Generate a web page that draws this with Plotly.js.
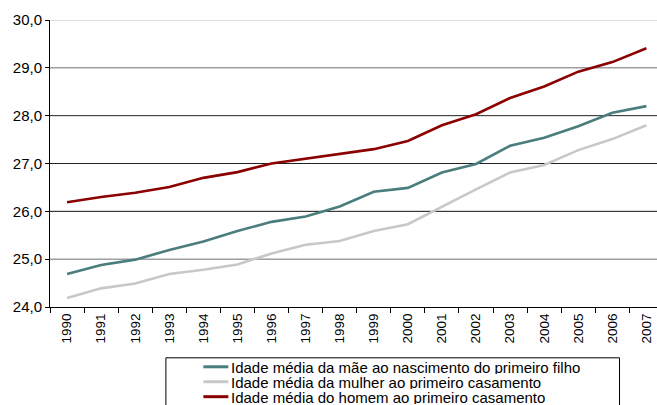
<!DOCTYPE html>
<html>
<head>
<meta charset="utf-8">
<script src="https://cdn.plot.ly/plotly-3.0.1.min.js"></script>
<style>html,body{margin:0;padding:0;background:#fff;}#chart{width:657px;height:405px;}</style>
</head>
<body>
<div id="chart"></div>
<script>
const years = ["1990","1991","1992","1993","1994","1995","1996","1997","1998","1999","2000","2001","2002","2003","2004","2005","2006","2007"];
const maeFilho = [24.69,24.88,24.99,25.19,25.37,25.59,25.78,25.89,26.10,26.41,26.49,26.81,26.99,27.37,27.54,27.78,28.06,28.20];
const mulherCasamento = [24.19,24.39,24.49,24.69,24.78,24.89,25.12,25.30,25.38,25.59,25.73,26.10,26.46,26.81,26.97,27.28,27.51,27.80];
const homemCasamento = [26.19,26.30,26.39,26.51,26.70,26.82,27.00,27.10,27.20,27.30,27.47,27.80,28.03,28.37,28.61,28.92,29.12,29.41];
const seriesNames = ["Idade média da mãe ao nascimento do primeiro filho","Idade média da mulher ao primeiro casamento","Idade média do homem ao primeiro casamento"];
const yTicks = [24,25,26,27,28,29,30];

const colors = ["#4a7d7c","#c8c8c8","#8b0000"];
const gridColors = {25:"#6e6e6e",26:"#111111",27:"#222222",28:"#222222",29:"#6e6e6e",30:"#bdbdbd"};

const W = 657, H = 405;
const mL = 49.5, mR = 0, mT = 19.5, mB = 97.5;
const pw = W - mL - mR, ph = H - mT - mB;
const px = x => (x - mL) / pw;
const py = y => (H - mB - y) / ph;

const allSeries = [maeFilho, mulherCasamento, homemCasamento];
const traces = allSeries.map((s, i) => ({
  x: years, y: s, type: "scatter", mode: "lines", name: seriesNames[i],
  line: {color: colors[i], width: 2.6}, hoverinfo: "skip", showlegend: false
}));

const shapes = [];
yTicks.filter(v => v > 24).forEach(v => {
  shapes.push({type:"line", xref:"paper", yref:"y", x0:0, x1:1, y0:v, y1:v,
    line:{color:gridColors[v], width:1}, layer:"below"});
});
// legend box
shapes.push({type:"rect", xref:"paper", yref:"paper", x0:px(165.5), x1:px(619.5), y0:py(358.5), y1:py(430),
  line:{color:"#000", width:1}, fillcolor:"#fff", layer:"above"});
const annotations = [];
const rowY = [367.5, 382.5, 397.5];
seriesNames.forEach((n, i) => {
  shapes.push({type:"line", xref:"paper", yref:"paper", x0:px(203), x1:px(228), y0:py(rowY[i]), y1:py(rowY[i]),
    line:{color:colors[i], width:3}, layer:"above"});
  annotations.push({xref:"paper", yref:"paper", x:px(229), y:py(rowY[i]), xanchor:"left", yanchor:"middle",
    text:n, showarrow:false, height:14, valign:"middle",
    font:{family:"Liberation Sans, Arial", size:15, color:"#000"}});
});

const layout = {
  width: W, height: H,
  margin: {l: mL, r: mR, t: mT, b: mB, pad: 0},
  paper_bgcolor: "#fff", plot_bgcolor: "#fff",
  separators: ",.",
  font: {family: "Liberation Sans, Arial", color: "#000"},
  xaxis: {
    type: "category", range: [-0.5, 17.31], tickson: "boundaries",
    ticks: "outside", ticklen: 5, tickcolor: "#000", tickwidth: 1,
    showline: true, linecolor: "#000", linewidth: 1,
    showgrid: false, zeroline: false, tickangle: -90,
    tickfont: {size: 13.5, family: "Liberation Sans, Arial", color: "#000"}
  },
  yaxis: {
    range: [24, 30], tickvals: yTicks, tickformat: ".1f",
    ticks: "outside", ticklen: 4, tickcolor: "#000", tickwidth: 1,
    showline: true, linecolor: "#000", linewidth: 1,
    showgrid: false, zeroline: false,
    tickfont: {size: 15, family: "Liberation Sans, Arial", color: "#000"}
  },
  shapes: shapes,
  annotations: annotations,
  showlegend: false
};

Plotly.newPlot("chart", traces, layout, {staticPlot: true, displayModeBar: false});
</script>
</body>
</html>
